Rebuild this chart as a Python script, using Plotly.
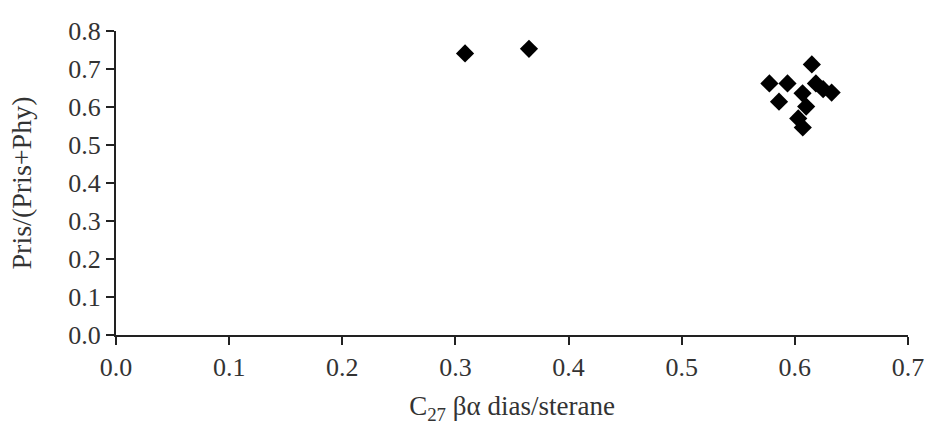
import plotly.graph_objects as go

x_vals = [0.3085, 0.365, 0.615, 0.5775, 0.5935, 0.586, 0.6186, 0.625, 0.6325, 0.6068, 0.610, 0.603, 0.607]
y_vals = [0.741, 0.753, 0.712, 0.662, 0.662, 0.614, 0.662, 0.647, 0.638, 0.636, 0.601, 0.570, 0.546]

x_ticks = [0.0, 0.1, 0.2, 0.3, 0.4, 0.5, 0.6, 0.7]
y_ticks = [0.0, 0.1, 0.2, 0.3, 0.4, 0.5, 0.6, 0.7, 0.8]

font_family = "Liberation Serif, Times New Roman, serif"

fig = go.Figure(go.Scatter(
    x=x_vals, y=y_vals, mode="markers",
    marker=dict(symbol="diamond", size=14, color="black"),
    cliponaxis=False,
))

axis_common = dict(
    showline=True, linecolor="#222", linewidth=2,
    ticks="outside", ticklen=8, tickwidth=2, tickcolor="#222",
    showgrid=False, zeroline=False,
    tickfont=dict(family=font_family, size=26, color="#333"),
    tickformat=".1f",
)

fig.update_xaxes(range=[0, 0.7], tickvals=x_ticks, automargin=False,
                 title=dict(text="C<sub>27</sub> βα dias/sterane",
                            font=dict(family=font_family, size=27, color="#333")),
                 **axis_common)
fig.update_yaxes(range=[0, 0.8], tickvals=y_ticks,
                 title=dict(text="Pris/(Pris+Phy)",
                            font=dict(family=font_family, size=28, color="#333"), standoff=28),
                 **axis_common)

fig.update_layout(
    width=930, height=428,
    margin=dict(l=116, r=22, t=31, b=93),
    paper_bgcolor="white", plot_bgcolor="white",
    showlegend=False,
)

fig.write_html("out.html")
